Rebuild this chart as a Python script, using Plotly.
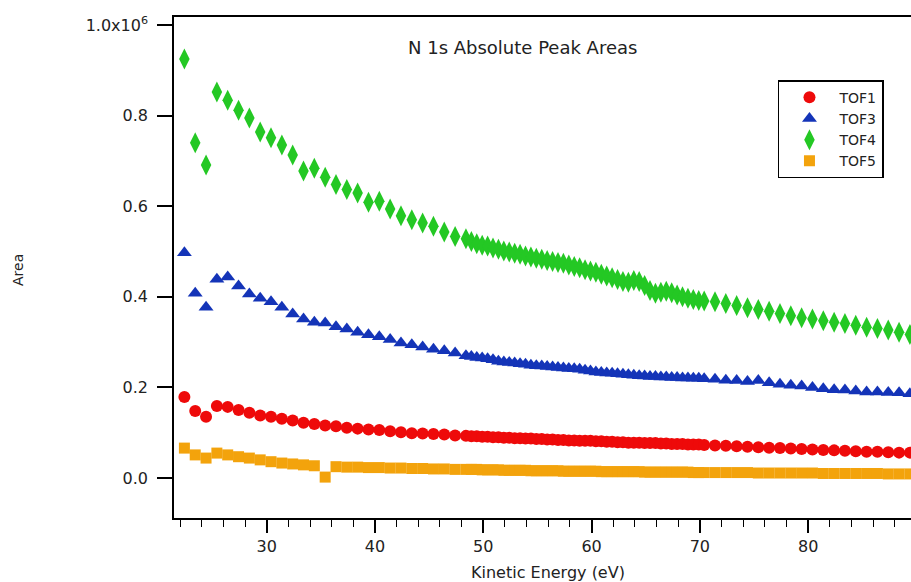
import plotly.graph_objects as go

# Kinetic energy (eV): three acquisition segments
energy_a = [22.4, 23.4, 24.4, 25.4, 26.4, 27.4, 28.4, 29.4, 30.4, 31.4, 32.4, 33.4, 34.4, 35.4,
            36.4, 37.4, 38.4, 39.4, 40.4, 41.4, 42.4, 43.4, 44.4, 45.4, 46.4, 47.4, 48.4]
energy_b = [48.9, 49.4, 49.9, 50.4, 50.9, 51.4, 51.9, 52.4, 52.9, 53.4, 53.9, 54.4, 54.9, 55.4,
            55.9, 56.4, 56.9, 57.4, 57.9, 58.4, 58.9, 59.4, 59.9, 60.4, 60.9, 61.4, 61.9, 62.4,
            62.9, 63.4, 63.9, 64.4, 64.9, 65.4, 65.9, 66.4, 66.9, 67.4, 67.9, 68.4, 68.9, 69.4,
            69.9, 70.4]
energy_c = [71.4, 72.4, 73.4, 74.4, 75.4, 76.4, 77.4, 78.4, 79.4, 80.4, 81.4, 82.4, 83.4, 84.4,
            85.4, 86.4, 87.4, 88.4, 89.4]

tof1_a = [0.179e6, 0.148e6, 0.135e6, 0.159e6, 0.157e6, 0.150e6, 0.144e6, 0.138e6, 0.135e6, 0.131e6,
          0.127e6, 0.122e6, 0.119e6, 0.116e6, 0.114e6, 0.111e6, 0.109e6, 0.107e6, 0.106e6, 0.103e6,
          0.101e6, 0.099e6, 0.098e6, 0.097e6, 0.096e6, 0.094e6, 0.093e6]
tof1_b = [0.092e6, 0.092e6, 0.091e6, 0.091e6, 0.090e6, 0.090e6, 0.089e6, 0.089e6, 0.088e6, 0.088e6,
          0.087e6, 0.087e6, 0.086e6, 0.086e6, 0.085e6, 0.085e6, 0.084e6, 0.084e6, 0.083e6, 0.083e6,
          0.082e6, 0.082e6, 0.082e6, 0.081e6, 0.081e6, 0.080e6, 0.080e6, 0.079e6, 0.079e6, 0.078e6,
          0.078e6, 0.078e6, 0.077e6, 0.077e6, 0.077e6, 0.076e6, 0.076e6, 0.075e6, 0.075e6, 0.075e6,
          0.074e6, 0.074e6, 0.074e6, 0.073e6]
tof1_c = [0.072e6, 0.071e6, 0.070e6, 0.069e6, 0.068e6, 0.067e6, 0.066e6, 0.065e6, 0.064e6, 0.063e6,
          0.062e6, 0.061e6, 0.060e6, 0.059e6, 0.058e6, 0.058e6, 0.057e6, 0.056e6, 0.056e6]

tof3_a = [0.497e6, 0.408e6, 0.377e6, 0.439e6, 0.444e6, 0.424e6, 0.406e6, 0.397e6, 0.389e6, 0.377e6,
          0.362e6, 0.351e6, 0.344e6, 0.342e6, 0.334e6, 0.329e6, 0.322e6, 0.316e6, 0.312e6, 0.306e6,
          0.298e6, 0.294e6, 0.289e6, 0.284e6, 0.281e6, 0.276e6, 0.270e6]
tof3_b = [0.268e6, 0.266e6, 0.265e6, 0.263e6, 0.261e6, 0.258e6, 0.256e6, 0.255e6, 0.254e6, 0.252e6,
          0.251e6, 0.249e6, 0.248e6, 0.247e6, 0.246e6, 0.245e6, 0.244e6, 0.243e6, 0.242e6, 0.241e6,
          0.240e6, 0.238e6, 0.236e6, 0.234e6, 0.233e6, 0.232e6, 0.231e6, 0.230e6, 0.229e6, 0.228e6,
          0.227e6, 0.226e6, 0.225e6, 0.224e6, 0.224e6, 0.223e6, 0.223e6, 0.222e6, 0.222e6, 0.221e6,
          0.221e6, 0.220e6, 0.220e6, 0.219e6]
tof3_c = [0.218e6, 0.216e6, 0.215e6, 0.213e6, 0.215e6, 0.210e6, 0.207e6, 0.205e6, 0.203e6, 0.200e6,
          0.197e6, 0.195e6, 0.194e6, 0.192e6, 0.190e6, 0.190e6, 0.189e6, 0.188e6, 0.186e6]

tof4_a = [0.925e6, 0.740e6, 0.691e6, 0.852e6, 0.834e6, 0.812e6, 0.795e6, 0.764e6, 0.751e6, 0.735e6,
          0.713e6, 0.678e6, 0.684e6, 0.664e6, 0.648e6, 0.637e6, 0.629e6, 0.609e6, 0.611e6, 0.594e6,
          0.579e6, 0.570e6, 0.563e6, 0.556e6, 0.543e6, 0.533e6, 0.528e6]
tof4_b = [0.522e6, 0.517e6, 0.514e6, 0.512e6, 0.508e6, 0.505e6, 0.501e6, 0.499e6, 0.496e6, 0.494e6,
          0.490e6, 0.488e6, 0.485e6, 0.483e6, 0.480e6, 0.478e6, 0.476e6, 0.474e6, 0.470e6, 0.467e6,
          0.464e6, 0.460e6, 0.457e6, 0.454e6, 0.450e6, 0.446e6, 0.442e6, 0.438e6, 0.434e6, 0.432e6,
          0.436e6, 0.434e6, 0.425e6, 0.414e6, 0.408e6, 0.410e6, 0.412e6, 0.409e6, 0.404e6, 0.400e6,
          0.397e6, 0.394e6, 0.392e6, 0.391e6]
tof4_c = [0.389e6, 0.385e6, 0.381e6, 0.376e6, 0.372e6, 0.368e6, 0.363e6, 0.358e6, 0.354e6, 0.351e6,
          0.347e6, 0.344e6, 0.341e6, 0.337e6, 0.333e6, 0.330e6, 0.327e6, 0.322e6, 0.317e6]

tof5_a = [0.066e6, 0.051e6, 0.044e6, 0.055e6, 0.051e6, 0.047e6, 0.044e6, 0.040e6, 0.036e6, 0.033e6,
          0.031e6, 0.029e6, 0.027e6, 0.002e6, 0.025e6, 0.024e6, 0.024e6, 0.023e6, 0.023e6, 0.022e6,
          0.022e6, 0.021e6, 0.021e6, 0.020e6, 0.020e6, 0.019e6, 0.019e6]
tof5_b = [0.019e6, 0.019e6, 0.018e6, 0.018e6, 0.018e6, 0.018e6, 0.017e6, 0.017e6, 0.017e6, 0.017e6,
          0.017e6, 0.016e6, 0.016e6, 0.016e6, 0.016e6, 0.016e6, 0.016e6, 0.015e6, 0.015e6, 0.015e6,
          0.015e6, 0.015e6, 0.015e6, 0.015e6, 0.014e6, 0.014e6, 0.014e6, 0.014e6, 0.014e6, 0.014e6,
          0.014e6, 0.014e6, 0.013e6, 0.013e6, 0.013e6, 0.013e6, 0.013e6, 0.013e6, 0.013e6, 0.013e6,
          0.013e6, 0.012e6, 0.012e6, 0.012e6]
tof5_c = [0.012e6, 0.012e6, 0.012e6, 0.012e6, 0.011e6, 0.011e6, 0.011e6, 0.011e6, 0.011e6, 0.011e6,
          0.010e6, 0.010e6, 0.010e6, 0.010e6, 0.010e6, 0.010e6, 0.009e6, 0.009e6, 0.009e6]

energy = energy_a + energy_b + energy_c
series = [
    ("TOF1", tof1_a + tof1_b + tof1_c, "circle", "#ee0a0a", 12),
    ("TOF3", tof3_a + tof3_b + tof3_c, "triangle-up", "#1434b8", 13),
    ("TOF4", tof4_a + tof4_b + tof4_c, "diamond-tall", "#24c824", 15),
    ("TOF5", tof5_a + tof5_b + tof5_c, "square", "#f3a30c", 11),
]

y_tickvals = [0, 0.2e6, 0.4e6, 0.6e6, 0.8e6, 1.0e6]
y_ticktext = ["0.0", "0.2", "0.4", "0.6", "0.8", "1.0x10<sup>6</sup>"]
x_tickvals = [30, 40, 50, 60, 70, 80]

FONT = "DejaVu Sans"

fig = go.Figure()
for name, vals, sym, col, sz in series:
    fig.add_trace(go.Scatter(
        x=energy, y=vals, mode="markers", name=name,
        marker=dict(symbol=sym, color=col, size=sz, line=dict(width=0)),
        cliponaxis=True,
    ))

fig.update_layout(
    width=911, height=582,
    margin=dict(l=174, r=0, t=17, b=64),
    paper_bgcolor="white", plot_bgcolor="white",
    font=dict(family=FONT, size=15, color="#222"),
    showlegend=True,
    legend=dict(
        x=0.8195, y=0.874, xanchor="left", yanchor="top",
        bordercolor="black", borderwidth=1.5, bgcolor="white",
        font=dict(family=FONT, size=14, color="#222"),
        itemwidth=50, tracegroupgap=0,
        entrywidth=110, entrywidthmode="pixels",
    ),
    xaxis=dict(
        range=[21.44, 89.5], showgrid=False, zeroline=False,
        showline=True, linecolor="black", linewidth=1.5, mirror=True,
        ticks="outside", ticklen=13, tickwidth=1.5, tickcolor="black",
        tickvals=x_tickvals, tickfont=dict(family=FONT, size=16, color="#222"),
        minor=dict(dtick=2, tick0=0, ticks="outside", ticklen=7, tickwidth=1.2, tickcolor="black"),
    ),
    yaxis=dict(
        range=[-0.0883e6, 1.0177e6], showgrid=False, zeroline=False,
        showline=True, linecolor="black", linewidth=1.5, mirror=False,
        ticks="outside", ticklen=15, tickwidth=1.5, tickcolor="black",
        tickvals=y_tickvals, ticktext=y_ticktext,
        tickfont=dict(family=FONT, size=16, color="#222"),
        ticklabelstandoff=6,
    ),
    annotations=[
        dict(text="N 1s Absolute Peak Areas", xref="paper", yref="paper",
             x=0.4735, y=0.940, xanchor="center", yanchor="middle", showarrow=False,
             font=dict(family=FONT, size=18, color="#222")),
        dict(text="Area", xref="paper", yref="paper", textangle=-90,
             x=-0.2117, y=0.495, xanchor="center", yanchor="middle", showarrow=False,
             font=dict(family=FONT, size=14, color="#222")),
        dict(text="Kinetic Energy (eV)", xref="paper", yref="paper",
             x=0.507, y=-0.108, xanchor="center", yanchor="middle", showarrow=False,
             font=dict(family=FONT, size=16, color="#222")),
    ],
)

fig.write_html("out.html")
